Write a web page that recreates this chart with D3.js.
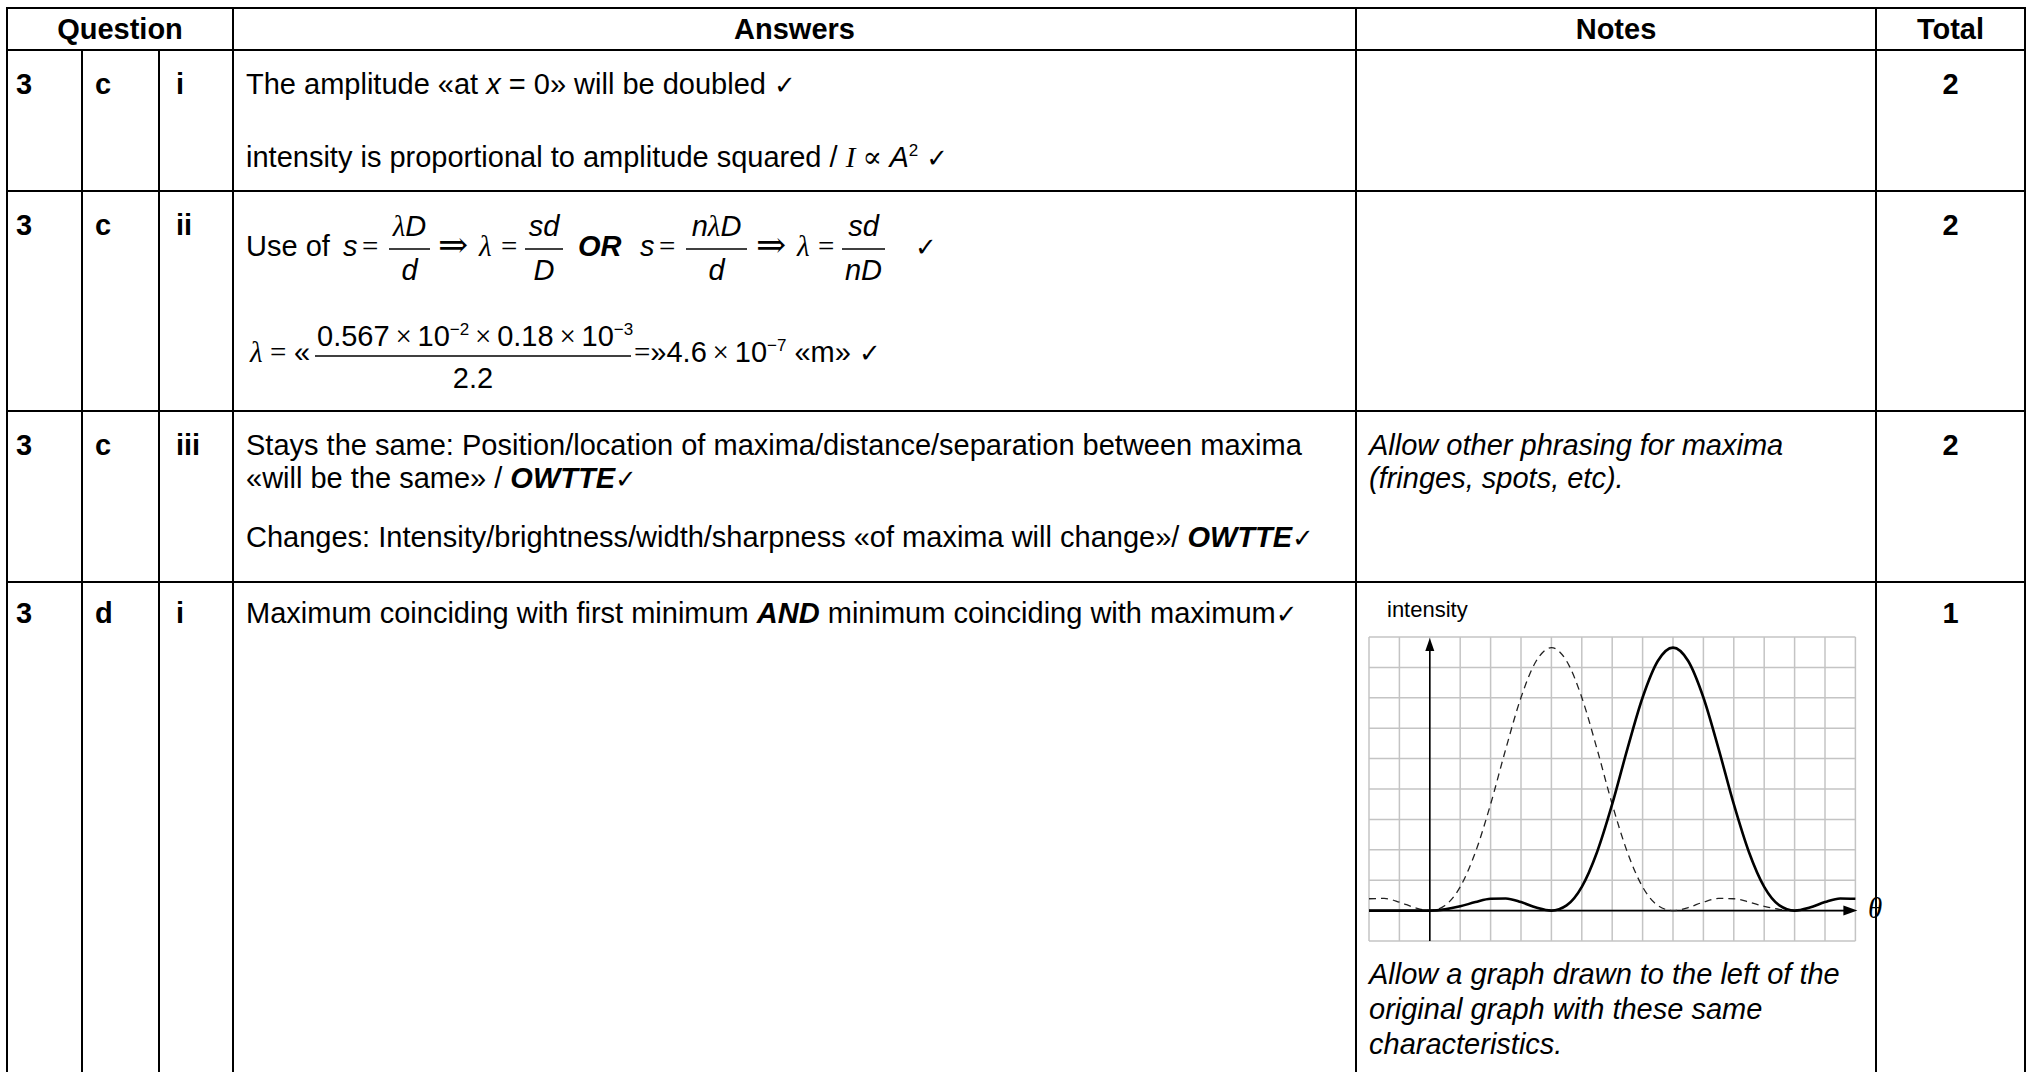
<!DOCTYPE html>
<html>
<head>
<meta charset="utf-8">
<script src="https://cdn.jsdelivr.net/npm/d3@7"></script>
<style>
  body { margin: 0; background: #fff; }
  svg { display: block; }
  text { font-family: "Liberation Sans", Arial, sans-serif; fill: #000; }
</style>
</head>
<body>
<div id="page"></div>
<script>
// table content
var headers = ["Question", "Answers", "Notes", "Total"];
var questionNums = ["3", "3", "3", "3"];
var questionParts = ["c", "c", "c", "d"];
var subParts = ["i", "ii", "iii", "i"];
var totals = ["2", "2", "2", "1"];

// intensity sketch: x in grid squares measured from the intensity axis, values in grid squares
var gridSteps = [-2, -1.5, -1, -0.5, 0, 0.5, 1, 1.5, 2, 2.5, 3, 3.5, 4, 4.5, 5, 5.5, 6, 6.5, 7, 7.5, 8, 8.5, 9, 9.5, 10, 10.5, 11, 11.5, 12, 12.5, 13, 13.5, 14];
var originalIntensity = [0.39, 0.40, 0.28, 0.10, 0, 0.17, 0.78, 1.92, 3.50, 5.32, 7.01, 8.21, 8.65, 8.21, 7.01, 5.32, 3.50, 1.92, 0.78, 0.17, 0, 0.10, 0.28, 0.40, 0.39, 0.28, 0.14, 0.04, 0, null, null, null, null];
var shiftedIntensity = [0, 0, 0, 0, 0, 0.04, 0.14, 0.28, 0.39, 0.40, 0.28, 0.10, 0, 0.17, 0.78, 1.92, 3.50, 5.32, 7.01, 8.21, 8.65, 8.21, 7.01, 5.32, 3.50, 1.92, 0.78, 0.17, 0, 0.10, 0.28, 0.40, 0.39];

var W = 2031, H = 1072;
var svg = d3.select("#page").append("svg").attr("width", W).attr("height", H);
svg.append("rect").attr("width", W).attr("height", H).attr("fill", "#fff");

//column and row borders of the mark scheme table
var colX = [7, 82, 159, 233, 1356, 1876, 2025];
var rowY = [8, 50, 191, 411, 582];
var rowBase = [94, 235, 455, 623];

var lines = svg.append("g").attr("stroke", "#000").attr("stroke-width", 2);
rowY.forEach(function(y) {
    lines.append("line").attr("x1", colX[0] - 1).attr("x2", colX[6] + 1).attr("y1", y).attr("y2", y);
});
colX.forEach(function(x, i) {
    var top = (i == 1 || i == 2) ? rowY[1] : rowY[0];
    lines.append("line").attr("x1", x).attr("x2", x).attr("y1", top).attr("y2", H + 2);
});

// rich text helper: parts are [string, "b i serif sup chk"]
function rich(sel, x, y, parts, size) {
    var t = sel.append("text").attr("x", x).attr("y", y).style("font-size", (size || 29) + "px");
    var raised = 0;
    parts.forEach(function(p) {
        var st = (p[1] || "").split(" ");
        var s = t.append("tspan").text(p[0]);
        if (st.indexOf("sup") >= 0) {
            s.attr("dy", -11 - raised).style("font-size", "17px");
            raised = -11;
        } else if (raised) {
            s.attr("dy", -raised);
            raised = 0;
        }
        if (st.indexOf("b") >= 0) s.style("font-weight", "bold");
        if (st.indexOf("i") >= 0) s.style("font-style", "italic");
        if (st.indexOf("serif") >= 0) s.style("font-family", "'Liberation Serif', 'DejaVu Serif', serif");
        if (st.indexOf("big") >= 0) s.style("font-size", "33px");
        if (st.indexOf("chk") >= 0) s.style("font-family", "'DejaVu Sans', sans-serif").style("font-size", "26px");
    });
    return t;
}

// header row
var headCx = [(colX[0] + colX[3]) / 2, (colX[3] + colX[4]) / 2, (colX[4] + colX[5]) / 2, (colX[5] + colX[6]) / 2];
svg.append("g").selectAll("text").data(headers).enter().append("text")
    .attr("x", function(d, i) { return headCx[i]; })
    .attr("y", 39)
    .attr("text-anchor", "middle")
    .style("font-size", "29px").style("font-weight", "bold")
    .text(function(d) { return d; });

// question labels and totals
var labels = svg.append("g").style("font-size", "29px").style("font-weight", "bold");
rowBase.forEach(function(y, i) {
    labels.append("text").attr("x", 16).attr("y", y).text(questionNums[i]);
    labels.append("text").attr("x", 95).attr("y", y).text(questionParts[i]);
    labels.append("text").attr("x", 176).attr("y", y).text(subParts[i]);
    labels.append("text").attr("x", headCx[3]).attr("y", y).attr("text-anchor", "middle").text(totals[i]);
});

var ans = svg.append("g");
var AX = 246;
var TS = "\u2009";

// row 1
rich(ans, AX, 94, [["The amplitude «at "], ["x", "i"], [" = 0» will be doubled "], ["✓", "chk"]]);
rich(ans, AX, 167, [["intensity is proportional to amplitude squared /  "], ["I", "i serif"], [" ∝ ", "serif"], ["A", "i"], ["2", "sup"], [" "], ["✓", "chk"]]);

// row 2, fractions
function frac(g, x1, x2, barY, num, den, numY, denY, size) {
    var cx = (x1 + x2) / 2;
    g.append("line").attr("x1", x1).attr("x2", x2).attr("y1", barY).attr("y2", barY)
        .attr("stroke", "#000").attr("stroke-width", 1.3);
    rich(g, cx, numY, num, size).attr("text-anchor", "middle");
    rich(g, cx, denY, den, size).attr("text-anchor", "middle");
}
var b1 = 256, bar1 = 249, n1 = 236, d1 = 280;
rich(ans, AX, b1, [["Use of"]]);
rich(ans, 343, b1, [["s", "i"]]);
rich(ans, 362, b1, [["=", "serif"]], 29);
frac(ans, 389, 430, bar1, [["λ", "i serif"], ["D", "i"]], [["d", "i"]], n1, d1);
rich(ans, 438, b1 + 1, [["⇒", "serif"]], 36);
rich(ans, 479, b1, [["λ", "i serif"]]);
rich(ans, 501, b1, [["=", "serif"]], 29);
frac(ans, 525, 563, bar1, [["sd", "i"]], [["D", "i"]], n1, d1);
rich(ans, 578, b1, [["OR", "b i"]]);
rich(ans, 640, b1, [["s", "i"]]);
rich(ans, 659, b1, [["=", "serif"]], 29);
frac(ans, 686, 747, bar1, [["n", "i"], ["λ", "i serif"], ["D", "i"]], [["d", "i"]], n1, d1);
rich(ans, 756, b1 + 1, [["⇒", "serif"]], 36);
rich(ans, 797, b1, [["λ", "i serif"]]);
rich(ans, 818, b1, [["=", "serif"]], 29);
frac(ans, 842, 885, bar1, [["sd", "i"]], [["nD", "i"]], n1, d1);
rich(ans, 915, b1, [["✓", "chk"]]);

var b2 = 362;
rich(ans, 250, b2, [["λ", "i serif"]]);
rich(ans, 270, b2, [["=", "serif"]], 29);
rich(ans, 294, b2, [["«"]]);
ans.append("line").attr("x1", 315).attr("x2", 631).attr("y1", 356).attr("y2", 356)
    .attr("stroke", "#000").attr("stroke-width", 1.3);
rich(ans, 317, 346, [["0.567"], [TS + "×" + TS, "serif"], ["10"], ["−2", "sup"], [TS + "×" + TS, "serif"], ["0.18"], [TS + "×" + TS, "serif"], ["10"], ["−3", "sup"]]);
rich(ans, 473, 388, [["2.2"]]).attr("text-anchor", "middle");
rich(ans, 634, b2, [["=", "serif"], ["»4.6"], [TS + "×" + TS, "serif"], ["10"], ["−7", "sup"], ["  «m» "], ["✓", "chk"]]);

// row 3
rich(ans, AX, 455, [["Stays the same: Position/location of maxima/distance/separation between maxima"]]);
rich(ans, AX, 488, [["«will be the same» / "], ["OWTTE", "b i"], ["✓", "chk"]]);
rich(ans, AX, 547, [["Changes: Intensity/brightness/width/sharpness «of maxima will change»/ "], ["OWTTE", "b i"], ["✓", "chk"]]);

// row 4
rich(ans, AX, 623, [["Maximum coinciding with first minimum "], ["AND", "b i"], [" minimum coinciding with maximum"], ["✓", "chk"]]);

// notes
var NX = 1369;
rich(ans, NX, 455, [["Allow other phrasing for maxima", "i"]]);
rich(ans, NX, 488, [["(fringes, spots, etc).", "i"]]);
rich(ans, NX, 984, [["Allow a graph drawn to the left of the", "i"]]);
rich(ans, NX, 1019, [["original graph with these same", "i"]]);
rich(ans, NX, 1054, [["characteristics.", "i"]]);

// intensity sketch
var cell = 30.4;
var x = d3.scaleLinear().domain([-2, 14]).range([1369, 1369 + 16 * cell]);
var y = d3.scaleLinear().domain([-1, 9]).range([637 + 10 * cell, 637]);

var sketch = svg.append("g");
rich(sketch, 1387, 617, [["intensity"]], 22);

var grid = sketch.append("g").attr("stroke", "#c4c4c4").attr("stroke-width", 1.5);
grid.selectAll(".v").data(d3.range(-2, 15)).enter().append("line")
    .attr("x1", function(d) { return x(d); }).attr("x2", function(d) { return x(d); })
    .attr("y1", y(-1)).attr("y2", y(9));
grid.selectAll(".h").data(d3.range(-1, 10)).enter().append("line")
    .attr("x1", x(-2)).attr("x2", x(14))
    .attr("y1", function(d) { return y(d); }).attr("y2", function(d) { return y(d); });

// axes with arrow heads
var axes = sketch.append("g").attr("stroke", "#000").attr("stroke-width", 1.6);
axes.append("line").attr("x1", x(0)).attr("x2", x(0)).attr("y1", y(-1)).attr("y2", y(9) + 8);
axes.append("line").attr("x1", x(-2)).attr("x2", x(14) - 8).attr("y1", y(0)).attr("y2", y(0));
sketch.append("path")
    .attr("d", "M" + x(0) + "," + (y(9) + 1) + "l-4.5,13h9z").attr("fill", "#000");
sketch.append("path")
    .attr("d", "M" + (x(14) + 2) + "," + y(0) + "l-14,-5v10z").attr("fill", "#000");
rich(sketch, 1868, 918, [["θ", "i serif"]], 29);

var line = function(vals) {
    return d3.line()
        .defined(function(d, i) { return vals[i] != null; })
        .x(function(d) { return x(d); })
        .y(function(d, i) { return y(vals[i]); })
        .curve(d3.curveMonotoneX)(gridSteps);
};
sketch.append("path").attr("d", line(originalIntensity))
    .attr("fill", "none").attr("stroke", "#222").attr("stroke-width", 1.3)
    .attr("stroke-dasharray", "7,5");
sketch.append("path").attr("d", line(shiftedIntensity))
    .attr("fill", "none").attr("stroke", "#000").attr("stroke-width", 2.6);
</script>
</body>
</html>
